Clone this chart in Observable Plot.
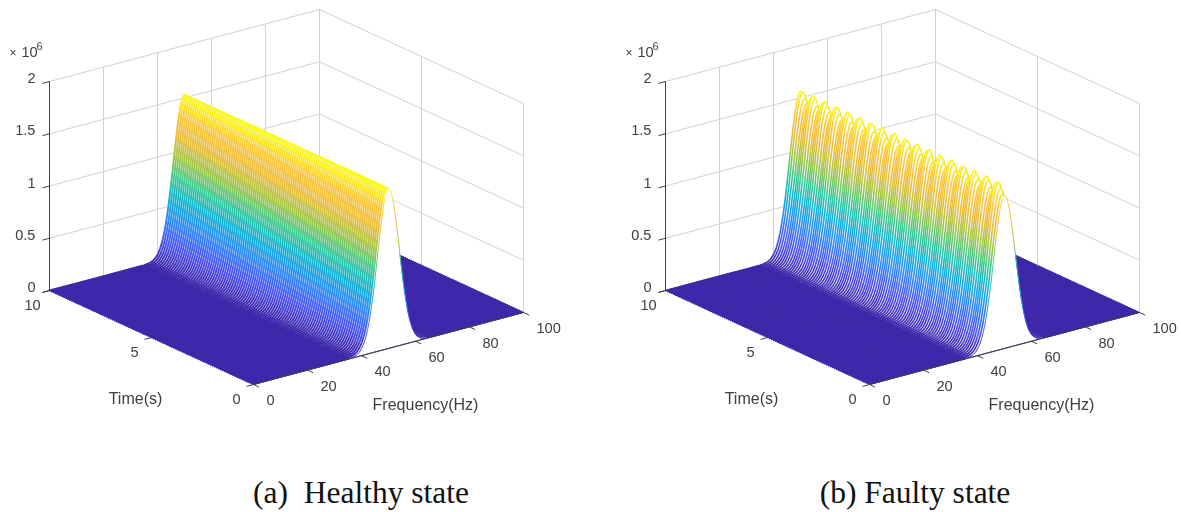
<!DOCTYPE html>
<html>
<head>
<meta charset="utf-8">
<script src="https://cdn.jsdelivr.net/npm/d3@7"></script>
<script src="https://cdn.jsdelivr.net/npm/@observablehq/plot@0.6"></script>
<style>
html,body{margin:0;padding:0;background:#fff;}
#page{position:relative;width:1181px;height:512px;overflow:hidden;}
#plots{display:flex;}
#plots svg{display:block;filter:blur(0.55px);}
.cap{position:absolute;top:475px;font:31.5px "Liberation Serif",serif;color:#111;white-space:pre;transform:translateX(-50%);}
</style>
</head>
<body>
<div id="page">
<div id="plots"></div>
<div class="cap" style="left:361px">(a)  Healthy state</div>
<div class="cap" style="left:915px">(b) Faulty state</div>
</div>
<script>
// Spectrum shape: distance from the 50 Hz centre (Hz) and relative height
const centreHz = 50;
const offsets = [0,0.25,0.5,0.75,1,1.25,1.5,1.75,2,2.25,2.5,2.75,3,3.25,3.5,3.75,4,4.25,4.5,4.75,5,5.25,5.5,5.75,6,6.25,6.5,6.75,7,7.25,7.5,7.75,8,8.25,8.5,8.75,9,9.25,9.5,9.75,10,10.5,11,11.5,12,12.5,13,13.5,14,14.5,15,16,20,30,40,50];
const heights = [1,0.998,0.992,0.983,0.969,0.952,0.932,0.909,0.882,0.854,0.823,0.790,0.755,0.719,0.682,0.644,0.607,0.569,0.531,0.494,0.458,0.423,0.389,0.356,0.325,0.295,0.267,0.241,0.216,0.193,0.172,0.153,0.135,0.119,0.105,0.091,0.079,0.069,0.060,0.051,0.044,0.032,0.023,0.016,0.011,0.008,0.005,0.003,0.002,0.001,0,0,0,0,0,0];

// Peak height (x 10^6) per time line, index 0 = 0 s, step 0.1 s, to 10 s
const healthyPeak = [1.53,1.53,1.53,1.53,1.53,1.53,1.53,1.53,1.53,1.53,1.53,1.53,1.53,1.53,1.53,1.53,1.53,1.53,1.53,1.53,1.53,1.53,1.53,1.53,1.53,1.53,1.53,1.53,1.53,1.53,1.53,1.53,1.53,1.53,1.53,1.53,1.53,1.53,1.53,1.53,1.53,1.53,1.53,1.53,1.53,1.53,1.53,1.53,1.53,1.53,1.53,1.53,1.53,1.53,1.53,1.53,1.53,1.53,1.53,1.53,1.53,1.53,1.53,1.53,1.53,1.53,1.53,1.53,1.53,1.53,1.53,1.53,1.53,1.53,1.53,1.53,1.53,1.53,1.53,1.53,1.53,1.53,1.53,1.53,1.53,1.53,1.53,1.53,1.53,1.53,1.53,1.53,1.53,1.53,1.53,1.53,1.53,1.53,1.53,1.53,1.53];
const faultyPeak = [1.46,1.47,1.51,1.56,1.56,1.50,1.46,1.48,1.54,1.57,1.54,1.49,1.46,1.50,1.55,1.57,1.52,1.47,1.47,1.52,1.56,1.55,1.50,1.46,1.48,1.54,1.57,1.54,1.48,1.46,1.50,1.55,1.56,1.52,1.47,1.47,1.52,1.57,1.55,1.50,1.46,1.49,1.54,1.57,1.54,1.48,1.46,1.50,1.56,1.56,1.51,1.47,1.47,1.53,1.57,1.55,1.49,1.46,1.49,1.54,1.57,1.53,1.48,1.46,1.50,1.56,1.56,1.51,1.47,1.47,1.53,1.57,1.55,1.49,1.46,1.49,1.55,1.57,1.53,1.48,1.46,1.51,1.56,1.56,1.51,1.46,1.48,1.53,1.57,1.55,1.49,1.46,1.49,1.55,1.57,1.53,1.47,1.47,1.51,1.56,1.56];

const zTicks = [0,0.5,1,1.5,2];
const zTickLabels = ["0","0.5","1","1.5","2"];
const fTicks = [0,20,40,60,80,100];
const tTicks = [0,5,10];
const parula = ["#3E26A8","#4852F4","#2D87F7","#12B1D6","#37C897","#9CC64A","#E8BE3E","#FCC63C","#F9FB15"];

// Oblique view of the (time, frequency, height) box
const view = {fu:2.7, tu:20.4, fv:0.72, tv:9.4, zv:104.5};
const U = (t,f) => f*view.fu - t*view.tu;
const V = (t,f,z) => f*view.fv + t*view.tv + z*view.zv;
const ink = "#404040", gridInk = "#d2d2d2";
const TXT = {fill:ink, fontSize:14.6};

// Both flanks of the ridge, low to high frequency
const spectrum = [
  ...offsets.map((d,k)=>({f:centreHz-d,h:heights[k]})).reverse(),
  ...offsets.slice(1).map((d,k)=>({f:centreHz+d,h:heights[k+1]}))
];

function seg(a,b){return {x1:U(a[0],a[1]),y1:V(a[0],a[1],a[2]),x2:U(b[0],b[1]),y2:V(b[0],b[1],b[2])};}

let panelId = 0;
function panel(peaks, width, lineWidth){
  const id = ++panelId;
  const xScale = {domain:[-253,width-253],range:[0,width],axis:null};
  const yScale = {domain:[-56,384],range:[440,0],axis:null};
  const X = Plot.scale({x:xScale}), Y = Plot.scale({y:yScale});
  const zMax = d3.max(peaks);

  // One colour ramp per time line: height maps to colour along the line without seams
  const ramps = () => {
    const svg = d3.create("svg:defs");
    const slope = view.fv/view.fu, H = zMax*view.zv, n = 1+slope*slope;
    peaks.forEach((_,i)=>{
      const t=i/10, x0=X.apply(U(t,50)), y0=Y.apply(V(t,50,0));
      const g=svg.append("linearGradient").attr("id",`ramp-${id}-${i}`)
        .attr("gradientUnits","userSpaceOnUse")
        .attr("x1",x0).attr("y1",y0)
        .attr("x2",x0-slope*H/n).attr("y2",y0-H/n);
      parula.forEach((c,k)=>g.append("stop").attr("offset",k/(parula.length-1)).attr("stop-color",c));
    });
    return svg.node();
  };

  const grid = [
    ...zTicks.map(z=>seg([10,0,z],[10,100,z])),
    ...zTicks.map(z=>seg([10,100,z],[0,100,z])),
    ...fTicks.map(f=>seg([10,f,0],[10,f,2])),
    ...tTicks.map(t=>seg([t,100,0],[t,100,2]))
  ];
  const plane = [[0,0],[0,100],[10,100],[10,0]].map(([t,f])=>({u:U(t,f),v:V(t,f,0)}));
  const marks = [
    ramps,
    Plot.link(grid,{x1:"x1",y1:"y1",x2:"x2",y2:"y2",stroke:gridInk,strokeWidth:1}),
    Plot.line(plane,{x:"u",y:"v",fill:parula[0],stroke:parula[0],strokeWidth:0.5}),
  ];
  for(let i=peaks.length-1;i>=0;i--){
    const t=i/10;
    const rows=spectrum.map(({f,h})=>{const z=h*peaks[i];return {u:U(t,f),v0:V(t,f,0),v:V(t,f,z)};});
    marks.push(Plot.areaY(rows,{x:"u",y1:"v0",y2:"v",fill:"white"}));
    marks.push(Plot.line(rows,{x:"u",y:"v",stroke:`url(#ramp-${id}-${i})`,strokeWidth:i===0?1:lineWidth}));
  }
  const lab=(data,o)=>Plot.text(data,{...TXT,...o});
  marks.push(
    Plot.link([seg([10,0,0],[10,0,2]),seg([0,0,0],[0,100,0])],{x1:"x1",y1:"y1",x2:"x2",y2:"y2",stroke:ink,strokeWidth:1}),
    Plot.link([
      ...zTicks.map(z=>seg([10,0,z],[10,-2.6,z])),
      ...fTicks.map(f=>seg([0,f,0],[-0.28,f,0])),
      ...tTicks.map(t=>seg([t,0,0],[t,-2.6,0]))
    ],{x1:"x1",y1:"y1",x2:"x2",y2:"y2",stroke:ink,strokeWidth:1}),
    lab(zTicks.map((z,i)=>({z,s:zTickLabels[i]})),{x:()=>U(10,0),y:d=>V(10,0,d.z),text:"s",textAnchor:"end",dx:-14,dy:-3}),
    lab(fTicks,{x:f=>U(0,f),y:f=>V(0,f,0),text:String,textAnchor:"start",dx:13,dy:16}),
    lab(tTicks,{x:t=>U(t,0),y:t=>V(t,0,0),text:String,textAnchor:"middle",dx:-17,dy:15}),
    lab(["Time(s)"],{x:()=>U(0,0),y:()=>V(0,0,0),text:String,textAnchor:"middle",dx:-118,dy:14,fontSize:16}),
    lab(["Frequency(Hz)"],{x:()=>U(0,0),y:()=>V(0,0,0),text:String,textAnchor:"middle",dx:172,dy:20,fontSize:16}),
    lab(["\u00d7"],{x:()=>U(10,0),y:()=>V(10,0,2),text:String,textAnchor:"start",dx:-40,dy:-28,fontSize:12}),
    lab(["10"],{x:()=>U(10,0),y:()=>V(10,0,2),text:String,textAnchor:"start",dx:-28,dy:-29,fontSize:14.6}),
    lab(["6"],{x:()=>U(10,0),y:()=>V(10,0,2),text:String,textAnchor:"start",dx:-13,dy:-35,fontSize:11})
  );
  return Plot.plot({
    width, height:440,
    margin:0,
    x:xScale,
    y:yScale,
    style:{fontFamily:"'Liberation Sans',Arial,sans-serif",background:"#fff"},
    marks
  });
}
const host=document.getElementById("plots");
host.append(panel(healthyPeak,616,1.9),panel(faultyPeak,565,1.6));
</script>
</body>
</html>
